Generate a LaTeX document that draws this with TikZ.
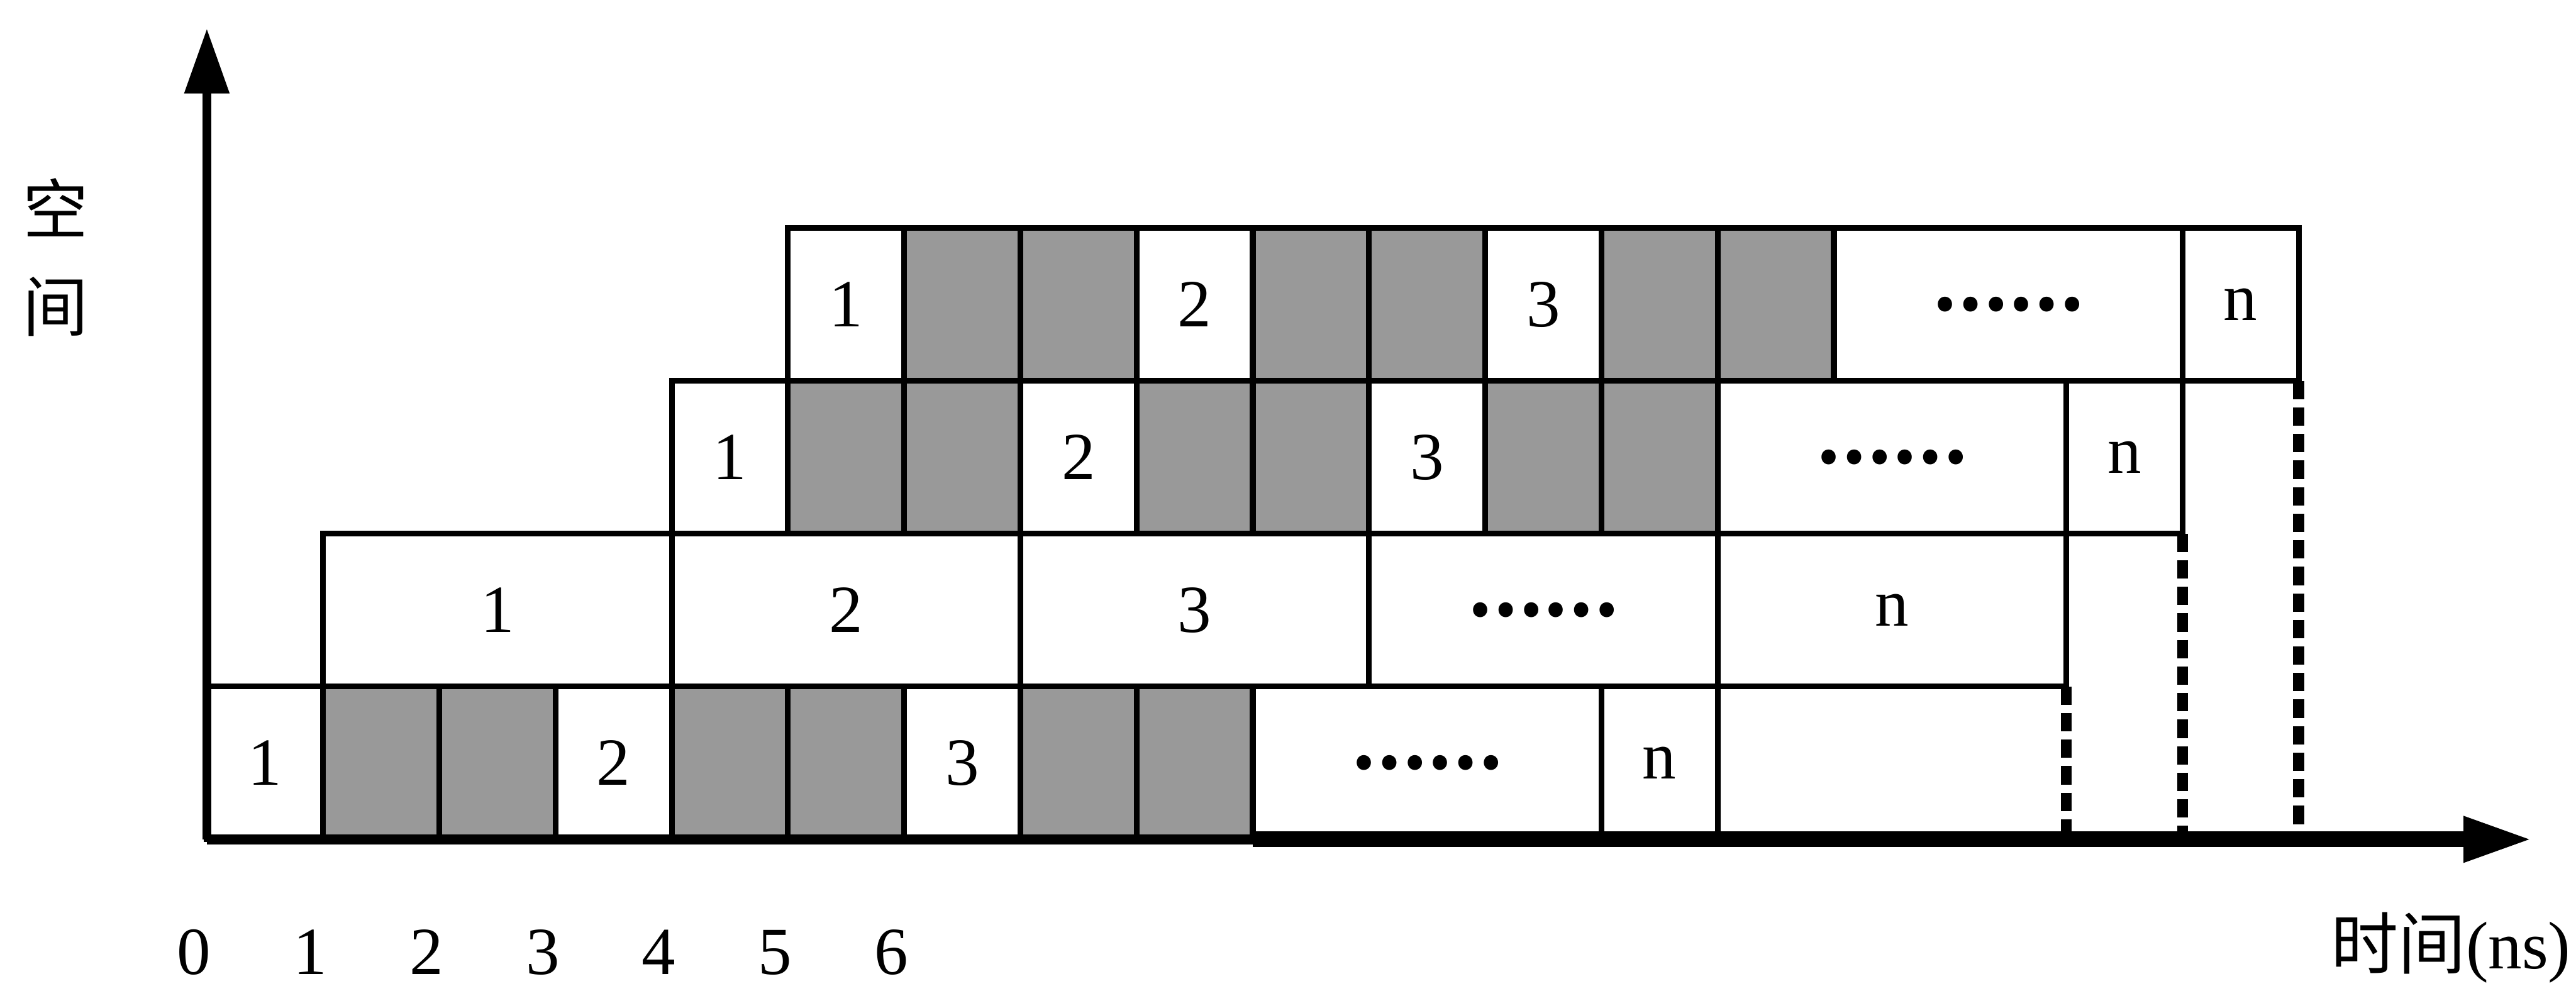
\documentclass[tikz,border=0pt]{standalone}
\usepackage{fontspec}
\setmainfont{Liberation Serif}
\newfontfamily\cjk{Noto Sans CJK SC}
\usetikzlibrary{arrows.meta}

\begin{document}
\begin{tikzpicture}[
  font=\fontsize{16.5}{19}\selectfont,
  cell/.style={draw, line width=1.4pt, anchor=south west, inner sep=0pt, outer sep=0pt, minimum width=1cm, minimum height=1.315cm},
  wide/.style={cell, minimum width=3cm},
  busy/.style={cell, fill=black!40},
  cn/.style={font=\cjk\fontsize{16}{19}\selectfont},
  drop/.style={line width=2.7pt, dash pattern=on 4.5pt off 2pt},
  axis/.style={line width=2.2pt},
]
\useasboundingbox (-1.780,-1.3005) rectangle (20.386,7.2236);
% stage 1
\node[cell] (s1t1) at (0,0) {1};
\node[cell] (s1t2) at (3,0) {2};
\node[cell] (s1t3) at (6,0) {3};
\node[wide] (s1dots) at (9,0) {\cjk\bfseries ……};
\node[cell] (s1tn) at (12,0) {n};
% stage 2
\node[wide] (s2t1) at (1,1.315) {1};
\node[wide] (s2t2) at (4,1.315) {2};
\node[wide] (s2t3) at (7,1.315) {3};
\node[wide] (s2dots) at (10,1.315) {\cjk\bfseries ……};
\node[wide] (s2tn) at (13,1.315) {n};
% stage 3
\node[cell] (s3t1) at (4,2.63) {1};
\node[cell] (s3t2) at (7,2.63) {2};
\node[cell] (s3t3) at (10,2.63) {3};
\node[wide] (s3dots) at (13,2.63) {\cjk\bfseries ……};
\node[cell] (s3tn) at (16,2.63) {n};
% stage 4
\node[cell] (s4t1) at (5,3.945) {1};
\node[cell] (s4t2) at (8,3.945) {2};
\node[cell] (s4t3) at (11,3.945) {3};
\node[wide] (s4dots) at (14,3.945) {\cjk\bfseries ……};
\node[cell] (s4tn) at (17,3.945) {n};
% waiting slots
\foreach \x/\y [count=\k] in {1/0,2/0,4/0,5/0,7/0,8/0,
    5/2.63,6/2.63,8/2.63,9/2.63,11/2.63,12/2.63,
    6/3.945,7/3.945,9/3.945,10/3.945,12/3.945,13/3.945}
  \node[busy] (w\k) at (\x,\y) {};

\coordinate (O) at (0,0);
\coordinate (ytop) at (0,6.979);
\coordinate (xend) at (20.018,0);

% end of each stage down to the time axis
\draw[drop] (s2tn.south east) -- (s2tn.south east |- O);
\draw[drop] (s3tn.south east) -- (s3tn.south east |- O);
\draw[drop] (s4tn.south east) -- (s4tn.south east |- O);

% axes
\draw[axis, -{Triangle[length=5.6mm, width=3.7mm]}] (O) -- (ytop);
\draw[line width=2.4pt] (O) -- (s1dots.south west);
\draw[line width=3.8pt, -{Triangle[length=6mm, width=3.6mm]}] (s1dots.south west) -- (xend);

\foreach \i in {0,...,6}
  \node[anchor=base, inner sep=0pt] (tick\i) at (\i-0.11,-1.16) {\i};
\node[cn] (kong) at (-1.30,5.44) {空};
\node[cn] (jian) at (-1.30,4.584) {间};
\node (tname) at (19.31,-0.93) {{\cjk 时间}(ns)};
\end{tikzpicture}
\end{document}
